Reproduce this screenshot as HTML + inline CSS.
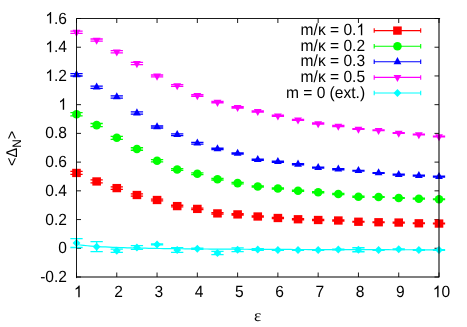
<!DOCTYPE html>
<html><head><meta charset="utf-8"><title>plot</title>
<style>
html,body{margin:0;padding:0;background:#fff;}
body{width:467px;height:327px;overflow:hidden;}
svg{display:block;will-change:transform;opacity:0.999;}
text{font-family:"Liberation Sans",sans-serif;font-size:16.2px;fill:#000;text-rendering:geometricPrecision;}
</style></head><body>
<svg width="467" height="327" viewBox="0 0 467 327">
<rect x="0" y="0" width="467" height="327" fill="#fff"/>

<path d="M76.50,18.50 h4.5 M439.00,18.50 h-4.5 M76.50,47.22 h4.5 M439.00,47.22 h-4.5 M76.50,75.94 h4.5 M439.00,75.94 h-4.5 M76.50,104.67 h4.5 M439.00,104.67 h-4.5 M76.50,133.39 h4.5 M439.00,133.39 h-4.5 M76.50,162.11 h4.5 M439.00,162.11 h-4.5 M76.50,190.83 h4.5 M439.00,190.83 h-4.5 M76.50,219.56 h4.5 M439.00,219.56 h-4.5 M76.50,248.28 h4.5 M439.00,248.28 h-4.5 M76.50,277.00 h4.5 M439.00,277.00 h-4.5 M76.50,277.00 v-4.5 M76.50,18.50 v4.5 M116.78,277.00 v-4.5 M116.78,18.50 v4.5 M157.06,277.00 v-4.5 M157.06,18.50 v4.5 M197.33,277.00 v-4.5 M197.33,18.50 v4.5 M237.61,277.00 v-4.5 M237.61,18.50 v4.5 M277.89,277.00 v-4.5 M277.89,18.50 v4.5 M318.17,277.00 v-4.5 M318.17,18.50 v4.5 M358.44,277.00 v-4.5 M358.44,18.50 v4.5 M398.72,277.00 v-4.5 M398.72,18.50 v4.5 M439.00,277.00 v-4.5 M439.00,18.50 v4.5" stroke="#000" stroke-width="0.9" fill="none"/>
<text transform="translate(67.00,23.60) scale(0.962,1)" text-anchor="end">.6</text><path transform="translate(45.34,23.60) scale(0.007610,-0.007910)" d="M763 0H583V1147Q518 1085 412.5 1023T223 930V1104Q373 1174.5 485 1275T644 1469H763V0Z" fill="#000"/>
<text transform="translate(67.00,52.32) scale(0.962,1)" text-anchor="end">.4</text><path transform="translate(45.34,52.32) scale(0.007610,-0.007910)" d="M763 0H583V1147Q518 1085 412.5 1023T223 930V1104Q373 1174.5 485 1275T644 1469H763V0Z" fill="#000"/>
<text transform="translate(67.00,81.04) scale(0.962,1)" text-anchor="end">.2</text><path transform="translate(45.34,81.04) scale(0.007610,-0.007910)" d="M763 0H583V1147Q518 1085 412.5 1023T223 930V1104Q373 1174.5 485 1275T644 1469H763V0Z" fill="#000"/>
<path transform="translate(58.34,109.77) scale(0.007610,-0.007910)" d="M763 0H583V1147Q518 1085 412.5 1023T223 930V1104Q373 1174.5 485 1275T644 1469H763V0Z" fill="#000"/>
<text transform="translate(67.00,138.49) scale(0.962,1)" text-anchor="end">0.8</text>
<text transform="translate(67.00,167.21) scale(0.962,1)" text-anchor="end">0.6</text>
<text transform="translate(67.00,195.93) scale(0.962,1)" text-anchor="end">0.4</text>
<text transform="translate(67.00,224.66) scale(0.962,1)" text-anchor="end">0.2</text>
<text transform="translate(67.00,253.38) scale(0.962,1)" text-anchor="end">0</text>
<text transform="translate(67.00,282.10) scale(0.962,1)" text-anchor="end">-0.2</text>
<path transform="translate(73.87,297.20) scale(0.007610,-0.007910)" d="M763 0H583V1147Q518 1085 412.5 1023T223 930V1104Q373 1174.5 485 1275T644 1469H763V0Z" fill="#000"/>
<text transform="translate(118.48,297.20) scale(0.962,1)" text-anchor="middle">2</text>
<text transform="translate(158.76,297.20) scale(0.962,1)" text-anchor="middle">3</text>
<text transform="translate(199.03,297.20) scale(0.962,1)" text-anchor="middle">4</text>
<text transform="translate(239.31,297.20) scale(0.962,1)" text-anchor="middle">5</text>
<text transform="translate(279.59,297.20) scale(0.962,1)" text-anchor="middle">6</text>
<text transform="translate(319.87,297.20) scale(0.962,1)" text-anchor="middle">7</text>
<text transform="translate(360.14,297.20) scale(0.962,1)" text-anchor="middle">8</text>
<text transform="translate(400.42,297.20) scale(0.962,1)" text-anchor="middle">9</text>
<text transform="translate(450.06,297.20) scale(0.962,1)" text-anchor="end">0</text><path transform="translate(432.74,297.20) scale(0.007610,-0.007910)" d="M763 0H583V1147Q518 1085 412.5 1023T223 930V1104Q373 1174.5 485 1275T644 1469H763V0Z" fill="#000"/>
<text transform="translate(257.6,320.8) scale(1.04,1)" text-anchor="middle" style="font-family:'Liberation Serif',serif;font-size:16.6px">ε</text>
<text transform="translate(16.6,148.4) scale(0.7297,0.68125) rotate(-90)" text-anchor="middle" style="font-size:21.33px">&lt;Δ<tspan dy="6" style="font-size:17px">N</tspan><tspan dy="-6">&gt;</tspan></text>
<polyline points="76.50,244.50 80.12,244.99 83.75,245.40 87.38,245.75 91.00,246.06 94.62,246.33 98.25,246.57 101.88,246.78 105.50,246.97 109.12,247.14 112.75,247.29 116.38,247.44 120.00,247.56 123.62,247.68 127.25,247.79 130.88,247.89 134.50,247.98 138.12,248.07 141.75,248.15 145.38,248.22 149.00,248.29 152.62,248.36 156.25,248.42 159.88,248.48 163.50,248.53 167.12,248.58 170.75,248.63 174.38,248.68 178.00,248.72 181.62,248.77 185.25,248.81 188.88,248.84 192.50,248.88 196.12,248.91 199.75,248.95 203.38,248.98 207.00,249.01 210.62,249.04 214.25,249.07 217.88,249.09 221.50,249.12 225.12,249.14 228.75,249.17 232.38,249.19 236.00,249.21 239.62,249.23 243.25,249.25 246.88,249.27 250.50,249.29 254.12,249.31 257.75,249.33 261.38,249.34 265.00,249.36 268.62,249.38 272.25,249.39 275.88,249.41 279.50,249.42 283.12,249.44 286.75,249.45 290.38,249.46 294.00,249.48 297.62,249.49 301.25,249.50 304.88,249.52 308.50,249.53 312.12,249.54 315.75,249.55 319.38,249.56 323.00,249.57 326.62,249.58 330.25,249.59 333.88,249.60 337.50,249.61 341.12,249.62 344.75,249.63 348.38,249.64 352.00,249.65 355.62,249.66 359.25,249.66 362.88,249.67 366.50,249.68 370.12,249.69 373.75,249.70 377.37,249.70 381.00,249.71 384.62,249.72 388.25,249.72 391.88,249.73 395.50,249.74 399.12,249.75 402.75,249.75 406.38,249.76 410.00,249.76 413.62,249.77 417.25,249.78 420.88,249.78 424.50,249.79 428.12,249.79 431.75,249.80 435.38,249.80 439.00,249.81" fill="none" stroke="#00ffff" stroke-width="1.2"/>
<path d="M76.50,171.45 V174.45 M70.35,171.45 h12.3 M70.35,174.45 h12.3 M96.64,179.95 V182.95 M90.49,179.95 h12.3 M90.49,182.95 h12.3 M116.78,186.87 V189.33 M110.63,186.87 h12.3 M110.63,189.33 h12.3 M136.92,193.95 V196.05 M130.77,193.95 h12.3 M130.77,196.05 h12.3 M157.06,199.07 V200.93 M150.91,199.07 h12.3 M150.91,200.93 h12.3 M177.19,205.27 V206.93 M171.04,205.27 h12.3 M171.04,206.93 h12.3 M197.33,208.14 V209.66 M191.18,208.14 h12.3 M191.18,209.66 h12.3 M217.47,212.70 V214.10 M211.32,212.70 h12.3 M211.32,214.10 h12.3 M237.61,213.75 V215.05 M231.46,213.75 h12.3 M231.46,215.05 h12.3 M257.75,215.89 V217.11 M251.60,215.89 h12.3 M251.60,217.11 h12.3 M277.89,217.43 V218.57 M271.74,217.43 h12.3 M271.74,218.57 h12.3 M298.03,218.71 V219.79 M291.88,218.71 h12.3 M291.88,219.79 h12.3 M318.17,219.49 V220.51 M312.02,219.49 h12.3 M312.02,220.51 h12.3 M338.31,220.01 V220.99 M332.16,220.01 h12.3 M332.16,220.99 h12.3 M358.44,221.28 V222.22 M352.29,221.28 h12.3 M352.29,222.22 h12.3 M378.58,221.80 V222.70 M372.43,221.80 h12.3 M372.43,222.70 h12.3 M398.72,222.12 V222.98 M392.57,222.12 h12.3 M392.57,222.98 h12.3 M418.86,222.89 V223.71 M412.71,222.89 h12.3 M412.71,223.71 h12.3 M439.00,223.15 V223.95 M432.85,223.15 h12.3 M432.85,223.95 h12.3" stroke="#ff0000" stroke-width="1.3" fill="none"/>
<rect x="72.20" y="168.80" width="8.60" height="8.30" fill="#ff0000"/>
<rect x="92.34" y="177.30" width="8.60" height="8.30" fill="#ff0000"/>
<rect x="112.48" y="183.95" width="8.60" height="8.30" fill="#ff0000"/>
<rect x="132.62" y="190.85" width="8.60" height="8.30" fill="#ff0000"/>
<rect x="152.76" y="195.85" width="8.60" height="8.30" fill="#ff0000"/>
<rect x="172.89" y="201.95" width="8.60" height="8.30" fill="#ff0000"/>
<rect x="193.03" y="204.75" width="8.60" height="8.30" fill="#ff0000"/>
<rect x="213.17" y="209.25" width="8.60" height="8.30" fill="#ff0000"/>
<rect x="233.31" y="210.25" width="8.60" height="8.30" fill="#ff0000"/>
<rect x="253.45" y="212.35" width="8.60" height="8.30" fill="#ff0000"/>
<rect x="273.59" y="213.85" width="8.60" height="8.30" fill="#ff0000"/>
<rect x="293.73" y="215.10" width="8.60" height="8.30" fill="#ff0000"/>
<rect x="313.87" y="215.85" width="8.60" height="8.30" fill="#ff0000"/>
<rect x="334.01" y="216.35" width="8.60" height="8.30" fill="#ff0000"/>
<rect x="354.14" y="217.60" width="8.60" height="8.30" fill="#ff0000"/>
<rect x="374.28" y="218.10" width="8.60" height="8.30" fill="#ff0000"/>
<rect x="394.42" y="218.40" width="8.60" height="8.30" fill="#ff0000"/>
<rect x="414.56" y="219.15" width="8.60" height="8.30" fill="#ff0000"/>
<rect x="434.70" y="219.40" width="8.60" height="8.30" fill="#ff0000"/>
<path d="M76.50,112.70 V115.90 M70.35,112.70 h12.3 M70.35,115.90 h12.3 M96.64,123.50 V126.70 M90.49,123.50 h12.3 M90.49,126.70 h12.3 M116.78,136.31 V139.29 M110.63,136.31 h12.3 M110.63,139.29 h12.3 M136.92,147.75 V150.25 M130.77,147.75 h12.3 M130.77,150.25 h12.3 M157.06,159.67 V161.83 M150.91,159.67 h12.3 M150.91,161.83 h12.3 M177.19,168.55 V170.45 M171.04,168.55 h12.3 M171.04,170.45 h12.3 M197.33,172.84 V174.56 M191.18,172.84 h12.3 M191.18,174.56 h12.3 M217.47,178.42 V179.98 M211.32,178.42 h12.3 M211.32,179.98 h12.3 M237.61,182.38 V183.82 M231.46,182.38 h12.3 M231.46,183.82 h12.3 M257.75,185.84 V187.16 M251.60,185.84 h12.3 M251.60,187.16 h12.3 M277.89,187.88 V189.12 M271.74,187.88 h12.3 M271.74,189.12 h12.3 M298.03,190.17 V191.33 M291.88,190.17 h12.3 M291.88,191.33 h12.3 M318.17,191.70 V192.80 M312.02,191.70 h12.3 M312.02,192.80 h12.3 M338.31,193.48 V194.52 M332.16,193.48 h12.3 M332.16,194.52 h12.3 M358.44,196.26 V197.24 M352.29,196.26 h12.3 M352.29,197.24 h12.3 M378.58,196.53 V197.47 M372.43,196.53 h12.3 M372.43,197.47 h12.3 M398.72,197.55 V198.45 M392.57,197.55 h12.3 M392.57,198.45 h12.3 M418.86,198.27 V199.13 M412.71,198.27 h12.3 M412.71,199.13 h12.3 M439.00,198.79 V199.61 M432.85,198.79 h12.3 M432.85,199.61 h12.3" stroke="#00ff00" stroke-width="1.3" fill="none"/>
<ellipse cx="76.50" cy="114.30" rx="4.3" ry="4.3" fill="#00ff00"/>
<ellipse cx="96.64" cy="125.10" rx="4.3" ry="4.3" fill="#00ff00"/>
<ellipse cx="116.78" cy="137.80" rx="4.3" ry="4.3" fill="#00ff00"/>
<ellipse cx="136.92" cy="149.00" rx="4.3" ry="4.3" fill="#00ff00"/>
<ellipse cx="157.06" cy="160.75" rx="4.3" ry="4.3" fill="#00ff00"/>
<ellipse cx="177.19" cy="169.50" rx="4.3" ry="4.3" fill="#00ff00"/>
<ellipse cx="197.33" cy="173.70" rx="4.3" ry="4.3" fill="#00ff00"/>
<ellipse cx="217.47" cy="179.20" rx="4.3" ry="4.3" fill="#00ff00"/>
<ellipse cx="237.61" cy="183.10" rx="4.3" ry="4.3" fill="#00ff00"/>
<ellipse cx="257.75" cy="186.50" rx="4.3" ry="4.3" fill="#00ff00"/>
<ellipse cx="277.89" cy="188.50" rx="4.3" ry="4.3" fill="#00ff00"/>
<ellipse cx="298.03" cy="190.75" rx="4.3" ry="4.3" fill="#00ff00"/>
<ellipse cx="318.17" cy="192.25" rx="4.3" ry="4.3" fill="#00ff00"/>
<ellipse cx="338.31" cy="194.00" rx="4.3" ry="4.3" fill="#00ff00"/>
<ellipse cx="358.44" cy="196.75" rx="4.3" ry="4.3" fill="#00ff00"/>
<ellipse cx="378.58" cy="197.00" rx="4.3" ry="4.3" fill="#00ff00"/>
<ellipse cx="398.72" cy="198.00" rx="4.3" ry="4.3" fill="#00ff00"/>
<ellipse cx="418.86" cy="198.70" rx="4.3" ry="4.3" fill="#00ff00"/>
<ellipse cx="439.00" cy="199.20" rx="4.3" ry="4.3" fill="#00ff00"/>
<path d="M76.50,73.60 V76.00 M70.35,73.60 h12.3 M70.35,76.00 h12.3 M96.64,86.05 V88.45 M90.49,86.05 h12.3 M90.49,88.45 h12.3 M116.78,95.80 V98.20 M110.63,95.80 h12.3 M110.63,98.20 h12.3 M136.92,111.92 V114.22 M130.77,111.92 h12.3 M130.77,114.22 h12.3 M157.06,126.00 V128.00 M150.91,126.00 h12.3 M150.91,128.00 h12.3 M177.19,133.82 V135.58 M171.04,133.82 h12.3 M171.04,135.58 h12.3 M197.33,142.46 V144.04 M191.18,142.46 h12.3 M191.18,144.04 h12.3 M217.47,148.23 V149.67 M211.32,148.23 h12.3 M211.32,149.67 h12.3 M237.61,152.84 V154.16 M231.46,152.84 h12.3 M231.46,154.16 h12.3 M257.75,159.09 V160.31 M251.60,159.09 h12.3 M251.60,160.31 h12.3 M277.89,161.18 V162.32 M271.74,161.18 h12.3 M271.74,162.32 h12.3 M298.03,163.76 V164.84 M291.88,163.76 h12.3 M291.88,164.84 h12.3 M318.17,167.09 V168.11 M312.02,167.09 h12.3 M312.02,168.11 h12.3 M338.31,168.77 V169.73 M332.16,168.77 h12.3 M332.16,169.73 h12.3 M358.44,170.30 V171.20 M352.29,170.30 h12.3 M352.29,171.20 h12.3 M378.58,172.57 V173.43 M372.43,172.57 h12.3 M372.43,173.43 h12.3 M398.72,174.19 V175.01 M392.57,174.19 h12.3 M392.57,175.01 h12.3 M418.86,175.20 V176.00 M412.71,175.20 h12.3 M412.71,176.00 h12.3 M439.00,176.22 V176.98 M432.85,176.22 h12.3 M432.85,176.98 h12.3" stroke="#0000ff" stroke-width="1.3" fill="none"/>
<path d="M76.50,70.10 L80.40,77.15 L72.60,77.15 Z" fill="#0000ff"/>
<path d="M96.64,82.55 L100.54,89.60 L92.74,89.60 Z" fill="#0000ff"/>
<path d="M116.78,92.30 L120.68,99.35 L112.88,99.35 Z" fill="#0000ff"/>
<path d="M136.92,108.37 L140.82,115.42 L133.02,115.42 Z" fill="#0000ff"/>
<path d="M157.06,122.30 L160.96,129.35 L153.16,129.35 Z" fill="#0000ff"/>
<path d="M177.19,130.00 L181.09,137.05 L173.29,137.05 Z" fill="#0000ff"/>
<path d="M197.33,138.55 L201.23,145.60 L193.43,145.60 Z" fill="#0000ff"/>
<path d="M217.47,144.25 L221.37,151.30 L213.57,151.30 Z" fill="#0000ff"/>
<path d="M237.61,148.80 L241.51,155.85 L233.71,155.85 Z" fill="#0000ff"/>
<path d="M257.75,155.00 L261.65,162.05 L253.85,162.05 Z" fill="#0000ff"/>
<path d="M277.89,157.05 L281.79,164.10 L273.99,164.10 Z" fill="#0000ff"/>
<path d="M298.03,159.60 L301.93,166.65 L294.13,166.65 Z" fill="#0000ff"/>
<path d="M318.17,162.90 L322.07,169.95 L314.27,169.95 Z" fill="#0000ff"/>
<path d="M338.31,164.55 L342.21,171.60 L334.41,171.60 Z" fill="#0000ff"/>
<path d="M358.44,166.05 L362.34,173.10 L354.54,173.10 Z" fill="#0000ff"/>
<path d="M378.58,168.30 L382.48,175.35 L374.68,175.35 Z" fill="#0000ff"/>
<path d="M398.72,169.90 L402.62,176.95 L394.82,176.95 Z" fill="#0000ff"/>
<path d="M418.86,170.90 L422.76,177.95 L414.96,177.95 Z" fill="#0000ff"/>
<path d="M439.00,171.90 L442.90,178.95 L435.10,178.95 Z" fill="#0000ff"/>
<path d="M76.50,31.10 V33.30 M70.35,31.10 h12.3 M70.35,33.30 h12.3 M96.64,39.00 V41.20 M90.49,39.00 h12.3 M90.49,41.20 h12.3 M116.78,50.70 V52.90 M110.63,50.70 h12.3 M110.63,52.90 h12.3 M136.92,62.35 V64.55 M130.77,62.35 h12.3 M130.77,64.55 h12.3 M157.06,74.98 V76.92 M150.91,74.98 h12.3 M150.91,76.92 h12.3 M177.19,84.64 V86.36 M171.04,84.64 h12.3 M171.04,86.36 h12.3 M197.33,94.67 V96.23 M191.18,94.67 h12.3 M191.18,96.23 h12.3 M217.47,101.49 V102.91 M211.32,101.49 h12.3 M211.32,102.91 h12.3 M237.61,106.74 V108.06 M231.46,106.74 h12.3 M231.46,108.06 h12.3 M257.75,110.79 V112.01 M251.60,110.79 h12.3 M251.60,112.01 h12.3 M277.89,115.18 V116.32 M271.74,115.18 h12.3 M271.74,116.32 h12.3 M298.03,119.36 V120.44 M291.88,119.36 h12.3 M291.88,120.44 h12.3 M318.17,122.99 V124.01 M312.02,122.99 h12.3 M312.02,124.01 h12.3 M338.31,125.51 V126.49 M332.16,125.51 h12.3 M332.16,126.49 h12.3 M358.44,128.54 V129.46 M352.29,128.54 h12.3 M352.29,129.46 h12.3 M378.58,129.81 V130.69 M372.43,129.81 h12.3 M372.43,130.69 h12.3 M398.72,132.58 V133.42 M392.57,132.58 h12.3 M392.57,133.42 h12.3 M418.86,134.09 V134.91 M412.71,134.09 h12.3 M412.71,134.91 h12.3 M439.00,136.11 V136.89 M432.85,136.11 h12.3 M432.85,136.89 h12.3" stroke="#ff00ff" stroke-width="1.3" fill="none"/>
<path d="M76.50,36.90 L80.40,29.85 L72.60,29.85 Z" fill="#ff00ff"/>
<path d="M96.64,44.80 L100.54,37.75 L92.74,37.75 Z" fill="#ff00ff"/>
<path d="M116.78,56.50 L120.68,49.45 L112.88,49.45 Z" fill="#ff00ff"/>
<path d="M136.92,68.15 L140.82,61.10 L133.02,61.10 Z" fill="#ff00ff"/>
<path d="M157.06,80.65 L160.96,73.60 L153.16,73.60 Z" fill="#ff00ff"/>
<path d="M177.19,90.20 L181.09,83.15 L173.29,83.15 Z" fill="#ff00ff"/>
<path d="M197.33,100.15 L201.23,93.10 L193.43,93.10 Z" fill="#ff00ff"/>
<path d="M217.47,106.90 L221.37,99.85 L213.57,99.85 Z" fill="#ff00ff"/>
<path d="M237.61,112.10 L241.51,105.05 L233.71,105.05 Z" fill="#ff00ff"/>
<path d="M257.75,116.10 L261.65,109.05 L253.85,109.05 Z" fill="#ff00ff"/>
<path d="M277.89,120.45 L281.79,113.40 L273.99,113.40 Z" fill="#ff00ff"/>
<path d="M298.03,124.60 L301.93,117.55 L294.13,117.55 Z" fill="#ff00ff"/>
<path d="M318.17,128.20 L322.07,121.15 L314.27,121.15 Z" fill="#ff00ff"/>
<path d="M338.31,130.70 L342.21,123.65 L334.41,123.65 Z" fill="#ff00ff"/>
<path d="M358.44,133.70 L362.34,126.65 L354.54,126.65 Z" fill="#ff00ff"/>
<path d="M378.58,134.95 L382.48,127.90 L374.68,127.90 Z" fill="#ff00ff"/>
<path d="M398.72,137.70 L402.62,130.65 L394.82,130.65 Z" fill="#ff00ff"/>
<path d="M418.86,139.20 L422.76,132.15 L414.96,132.15 Z" fill="#ff00ff"/>
<path d="M439.00,141.20 L442.90,134.15 L435.10,134.15 Z" fill="#ff00ff"/>
<path d="M76.50,238.70 V247.50 M70.35,238.70 h12.3 M70.35,247.50 h12.3 M96.64,241.70 V251.60 M90.49,241.70 h12.3 M90.49,251.60 h12.3 M116.78,249.20 V252.40 M110.63,249.20 h12.3 M110.63,252.40 h12.3 M136.92,245.60 V249.40 M130.77,245.60 h12.3 M130.77,249.40 h12.3 M157.06,243.90 V244.90 M150.91,243.90 h12.3 M150.91,244.90 h12.3 M177.19,247.70 V252.30 M171.04,247.70 h12.3 M171.04,252.30 h12.3 M197.33,248.25 V249.25 M191.18,248.25 h12.3 M191.18,249.25 h12.3 M217.47,251.30 V254.70 M211.32,251.30 h12.3 M211.32,254.70 h12.3 M237.61,247.95 V251.55 M231.46,247.95 h12.3 M231.46,251.55 h12.3 M257.75,248.70 V250.30 M251.60,248.70 h12.3 M251.60,250.30 h12.3 M277.89,249.70 V250.30 M271.74,249.70 h12.3 M271.74,250.30 h12.3 M298.03,249.70 V250.30 M291.88,249.70 h12.3 M291.88,250.30 h12.3 M318.17,249.70 V250.30 M312.02,249.70 h12.3 M312.02,250.30 h12.3 M338.31,249.20 V249.80 M332.16,249.20 h12.3 M332.16,249.80 h12.3 M358.44,247.75 V251.75 M352.29,247.75 h12.3 M352.29,251.75 h12.3 M378.58,249.70 V250.30 M372.43,249.70 h12.3 M372.43,250.30 h12.3 M398.72,248.95 V249.55 M392.57,248.95 h12.3 M392.57,249.55 h12.3 M418.86,249.70 V250.30 M412.71,249.70 h12.3 M412.71,250.30 h12.3 M439.00,249.70 V250.30 M432.85,249.70 h12.3 M432.85,250.30 h12.3" stroke="#00ffff" stroke-width="1.3" fill="none"/>
<path d="M76.50,239.10 L80.40,243.10 L76.50,247.10 L72.60,243.10 Z" fill="#00ffff"/>
<path d="M96.64,242.65 L100.54,246.65 L96.64,250.65 L92.74,246.65 Z" fill="#00ffff"/>
<path d="M116.78,246.80 L120.68,250.80 L116.78,254.80 L112.88,250.80 Z" fill="#00ffff"/>
<path d="M136.92,243.50 L140.82,247.50 L136.92,251.50 L133.02,247.50 Z" fill="#00ffff"/>
<path d="M157.06,240.40 L160.96,244.40 L157.06,248.40 L153.16,244.40 Z" fill="#00ffff"/>
<path d="M177.19,246.00 L181.09,250.00 L177.19,254.00 L173.29,250.00 Z" fill="#00ffff"/>
<path d="M197.33,244.75 L201.23,248.75 L197.33,252.75 L193.43,248.75 Z" fill="#00ffff"/>
<path d="M217.47,249.00 L221.37,253.00 L217.47,257.00 L213.57,253.00 Z" fill="#00ffff"/>
<path d="M237.61,245.75 L241.51,249.75 L237.61,253.75 L233.71,249.75 Z" fill="#00ffff"/>
<path d="M257.75,245.50 L261.65,249.50 L257.75,253.50 L253.85,249.50 Z" fill="#00ffff"/>
<path d="M277.89,246.00 L281.79,250.00 L277.89,254.00 L273.99,250.00 Z" fill="#00ffff"/>
<path d="M298.03,246.00 L301.93,250.00 L298.03,254.00 L294.13,250.00 Z" fill="#00ffff"/>
<path d="M318.17,246.00 L322.07,250.00 L318.17,254.00 L314.27,250.00 Z" fill="#00ffff"/>
<path d="M338.31,245.50 L342.21,249.50 L338.31,253.50 L334.41,249.50 Z" fill="#00ffff"/>
<path d="M358.44,245.75 L362.34,249.75 L358.44,253.75 L354.54,249.75 Z" fill="#00ffff"/>
<path d="M378.58,246.00 L382.48,250.00 L378.58,254.00 L374.68,250.00 Z" fill="#00ffff"/>
<path d="M398.72,245.25 L402.62,249.25 L398.72,253.25 L394.82,249.25 Z" fill="#00ffff"/>
<path d="M418.86,246.00 L422.76,250.00 L418.86,254.00 L414.96,250.00 Z" fill="#00ffff"/>
<path d="M439.00,246.00 L442.90,250.00 L439.00,254.00 L435.10,250.00 Z" fill="#00ffff"/>
<path d="M76.50,277.60 V18.50 H439.60" fill="none" stroke="#000" stroke-width="0.9" stroke-linecap="square"/>
<path d="M439.00,18.50 V277.00 H76.50" fill="none" stroke="#000" stroke-width="1.05" stroke-linejoin="miter"/>
<path transform="translate(356.44,35.20) scale(0.007610,-0.007910)" d="M763 0H583V1147Q518 1085 412.5 1023T223 930V1104Q373 1174.5 485 1275T644 1469H763V0Z" fill="#000"/><text transform="translate(356.44,35.20) scale(0.962,1)" text-anchor="end">m/κ = 0.</text>
<path d="M374.2,30.60 H420.7 M374.2,28.35 v4.5 M420.7,28.35 v4.5" stroke="#ff0000" stroke-width="1.1" fill="none"/>
<rect x="393.15" y="26.45" width="8.60" height="8.30" fill="#ff0000"/>
<text transform="translate(365.10,50.80) scale(0.962,1)" text-anchor="end">m/κ = 0.2</text>
<path d="M374.2,46.20 H420.7 M374.2,43.95 v4.5 M420.7,43.95 v4.5" stroke="#00ff00" stroke-width="1.1" fill="none"/>
<ellipse cx="397.45" cy="46.20" rx="4.3" ry="4.3" fill="#00ff00"/>
<text transform="translate(365.10,66.40) scale(0.962,1)" text-anchor="end">m/κ = 0.3</text>
<path d="M374.2,61.80 H420.7 M374.2,59.55 v4.5 M420.7,59.55 v4.5" stroke="#0000ff" stroke-width="1.1" fill="none"/>
<path d="M397.45,57.10 L401.35,64.15 L393.55,64.15 Z" fill="#0000ff"/>
<text transform="translate(365.10,82.00) scale(0.962,1)" text-anchor="end">m/κ = 0.5</text>
<path d="M374.2,77.40 H420.7 M374.2,75.15 v4.5 M420.7,75.15 v4.5" stroke="#ff00ff" stroke-width="1.1" fill="none"/>
<path d="M397.45,82.10 L401.35,75.05 L393.55,75.05 Z" fill="#ff00ff"/>
<text transform="translate(365.10,97.60) scale(0.962,1)" text-anchor="end">m = 0 (ext.)</text>
<path d="M374.2,93.00 H420.7 M374.2,90.75 v4.5 M420.7,90.75 v4.5" stroke="#00ffff" stroke-width="1.1" fill="none"/>
<path d="M397.45,89.00 L401.35,93.00 L397.45,97.00 L393.55,93.00 Z" fill="#00ffff"/>
</svg>
</body></html>
